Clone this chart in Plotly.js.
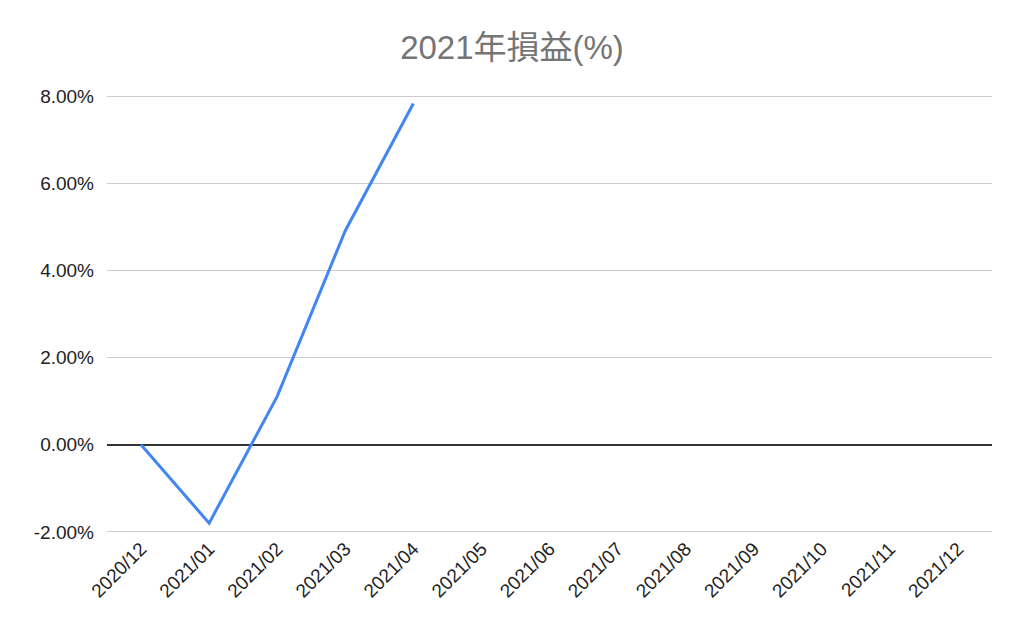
<!DOCTYPE html>
<html>
<head>
<meta charset="utf-8">
<script src="https://cdn.plot.ly/plotly-3.0.1.min.js"></script>
<style>html,body{margin:0;padding:0;background:#fff;}#chart{width:1024px;height:633px;}</style>
</head>
<body>
<div id="chart"></div>
<script>
const months = ["2020/12","2021/01","2021/02","2021/03","2021/04","2021/05","2021/06","2021/07","2021/08","2021/09","2021/10","2021/11","2021/12"];
const dataMonths = ["2020/12","2021/01","2021/02","2021/03","2021/04"];
const profitPct = [0, -1.80, 1.11, 4.91, 7.83];
const yTicks = [-2, 0, 2, 4, 6, 8];
const yTickText = yTicks.map(v => v.toFixed(2) + '%');

const font = '"Liberation Sans", Arial, "Noto Sans CJK JP", sans-serif';

Plotly.newPlot('chart', [{
  x: dataMonths,
  y: profitPct,
  type: 'scatter',
  mode: 'lines',
  line: {color: '#4285F4', width: 3},
  hoverinfo: 'skip'
}], {
  width: 1024, height: 633,
  paper_bgcolor: '#fff', plot_bgcolor: '#fff',
  margin: {l: 107, r: 32, t: 95, b: 100},
  showlegend: false,
  title: {text: '2021年損益(%)', x: 0.5, xanchor: 'center', y: 0.925, yanchor: 'middle',
    font: {family: font, size: 33, color: '#757575'}},
  xaxis: {
    type: 'category', categoryorder: 'array', categoryarray: months,
    tickmode: 'array', tickvals: months, range: [-0.5, 12.5],
    tickangle: -45, showgrid: false, zeroline: false, showline: false, ticks: '',
    tickfont: {family: font, size: 19, color: '#222'}
  },
  yaxis: {
    range: [-2.025, 8.025], tickmode: 'array', tickvals: yTicks, ticktext: yTickText,
    showgrid: true, gridcolor: '#cccccc', gridwidth: 1,
    zeroline: true, zerolinecolor: '#333333', zerolinewidth: 1.5,
    showline: false, ticks: '', ticklabelstandoff: 12,
    tickfont: {family: font, size: 19, color: '#222'}
  }
}, {staticPlot: true, displayModeBar: false});
</script>
</body>
</html>
